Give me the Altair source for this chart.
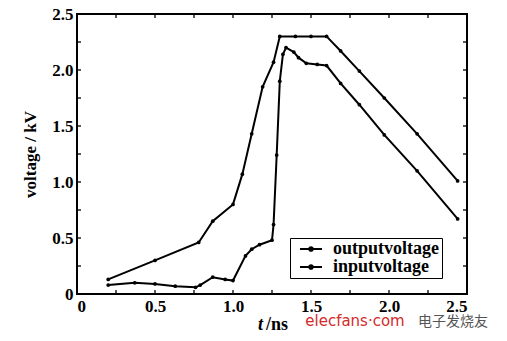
import altair as alt
import pandas as pd

# ---- data ----
input_t = [0.2, 0.5, 0.78, 0.87, 1.0, 1.06, 1.12, 1.19, 1.26, 1.3, 1.4, 1.5, 1.6,
           1.69, 1.81, 1.97, 2.18, 2.44]
input_v = [0.13, 0.30, 0.46, 0.65, 0.80, 1.07, 1.43, 1.85, 2.07, 2.30, 2.30, 2.30, 2.30,
           2.17, 1.99, 1.75, 1.43, 1.01]

output_t = [0.2, 0.37, 0.5, 0.63, 0.76, 0.79, 0.87, 0.95, 1.0, 1.08, 1.12, 1.17, 1.25,
            1.26, 1.28, 1.30, 1.32, 1.34, 1.39, 1.42, 1.47, 1.54, 1.6,
            1.69, 1.81, 1.97, 2.18, 2.44]
output_v = [0.08, 0.10, 0.09, 0.07, 0.06, 0.08, 0.15, 0.13, 0.12, 0.34, 0.40, 0.44, 0.48,
            0.62, 1.24, 1.90, 2.14, 2.20, 2.16, 2.11, 2.06, 2.05, 2.04,
            1.88, 1.69, 1.42, 1.10, 0.67]

series_names = ["outputvoltage", "inputvoltage"]
tick_values = [0.25 * i for i in range(11)]
label_values = [0, 0.5, 1.0, 1.5, 2.0, 2.5]

W, H = 390, 280
FONT = "Liberation Serif"

df = pd.concat([
    pd.DataFrame({"t": output_t, "v": output_v, "series": series_names[0]}),
    pd.DataFrame({"t": input_t, "v": input_v, "series": series_names[1]}),
])
ticks = pd.DataFrame({"p": tick_values})

xs = alt.Scale(domain=[0, 2.5], nice=False, zero=False)
ys = alt.Scale(domain=[0, 2.5], nice=False, zero=False)

x_axis = alt.Axis(values=label_values, ticks=False, domain=False, grid=False,
                  labelExpr="datum.value == 0 ? '0' : format(datum.value, '.1f')",
                  labelFont=FONT, labelFontSize=17, labelFontWeight="bold",
                  labelColor="black", labelPadding=4, title=None)
y_axis = alt.Axis(values=label_values, ticks=False, domain=False, grid=False,
                  labelExpr="datum.value == 0 ? '0' : format(datum.value, '.1f')",
                  labelFont=FONT, labelFontSize=17, labelFontWeight="bold",
                  labelColor="black", labelPadding=4,
                  title="voltage / kV", titleFont=FONT, titleFontSize=17,
                  titleFontWeight="bold", titleColor="black", titlePadding=12)

color = alt.Color("series:N",
                  scale=alt.Scale(domain=series_names, range=["black", "black"]),
                  sort=series_names,
                  legend=alt.Legend(
                      title=None, orient="none", legendX=213, legendY=224,
                      strokeColor="black", padding=2,
                      labelFont=FONT, labelFontSize=18, labelFontWeight="bold",
                      labelColor="black", labelOffset=13, labelLimit=200,
                      symbolType="M-2.2,0L2.2,0M-0.35,0A0.35,0.35,0,1,1,0.35,0A0.35,0.35,0,1,1,-0.35,0Z",
                      symbolSize=100, symbolStrokeWidth=2.2, symbolStrokeColor="black",
                      symbolFillColor="black", rowPadding=-6, symbolOffset=10))

lines = alt.Chart(df).mark_line(strokeWidth=2, point=alt.OverlayMarkDef(filled=True, size=14, color="black")).encode(
    x=alt.X("t:Q", scale=xs, axis=x_axis),
    y=alt.Y("v:Q", scale=ys, axis=y_axis),
    color=color,
    detail="series:N",
)

# inward ticks on all four sides
tb = alt.Chart(ticks).mark_rule(color="black", strokeWidth=1.3).encode(
    x=alt.X("p:Q", scale=xs), y=alt.value(H), y2=alt.value(H - 4))
tt = alt.Chart(ticks).mark_rule(color="black", strokeWidth=1.3).encode(
    x=alt.X("p:Q", scale=xs), y=alt.value(0), y2=alt.value(4))
tl = alt.Chart(ticks).mark_rule(color="black", strokeWidth=1.3).encode(
    y=alt.Y("p:Q", scale=ys), x=alt.value(0), x2=alt.value(4))
tr = alt.Chart(ticks).mark_rule(color="black", strokeWidth=1.3).encode(
    y=alt.Y("p:Q", scale=ys), x=alt.value(W), x2=alt.value(W - 4))

txt = pd.DataFrame({"a": [0]})
t_italic = alt.Chart(txt).mark_text(text="t", font=FONT, fontSize=18, fontWeight="bold",
                                    fontStyle="italic", align="right", baseline="middle",
                                    color="black").encode(x=alt.value(186), y=alt.value(311))
t_ns = alt.Chart(txt).mark_text(text="/ns", font=FONT, fontSize=18, fontWeight="bold",
                                align="left", baseline="middle",
                                color="black").encode(x=alt.value(189), y=alt.value(311))
wm1 = alt.Chart(txt).mark_text(text="elecfans·com", font="DejaVu Sans", fontSize=15,
                               align="center", baseline="middle",
                               color="#d42a2a").encode(x=alt.value(278), y=alt.value(307))
wm2 = alt.Chart(txt).mark_text(text="电子发烧友", font="Noto Sans CJK SC", fontSize=14,
                               align="center", baseline="middle",
                               color="#555555").encode(x=alt.value(376), y=alt.value(308))

chart = alt.layer(lines, tb, tt, tl, tr, t_italic, t_ns, wm1, wm2).properties(
    width=W, height=H,
    background="white",
    autosize=alt.AutoSizeParams(type="none"),
    padding={"left": 69, "top": 6, "right": 30, "bottom": 44},
).configure_view(stroke="black", strokeWidth=2)

chart.save("out.html", embed_options={"renderer": "svg", "actions": False})
